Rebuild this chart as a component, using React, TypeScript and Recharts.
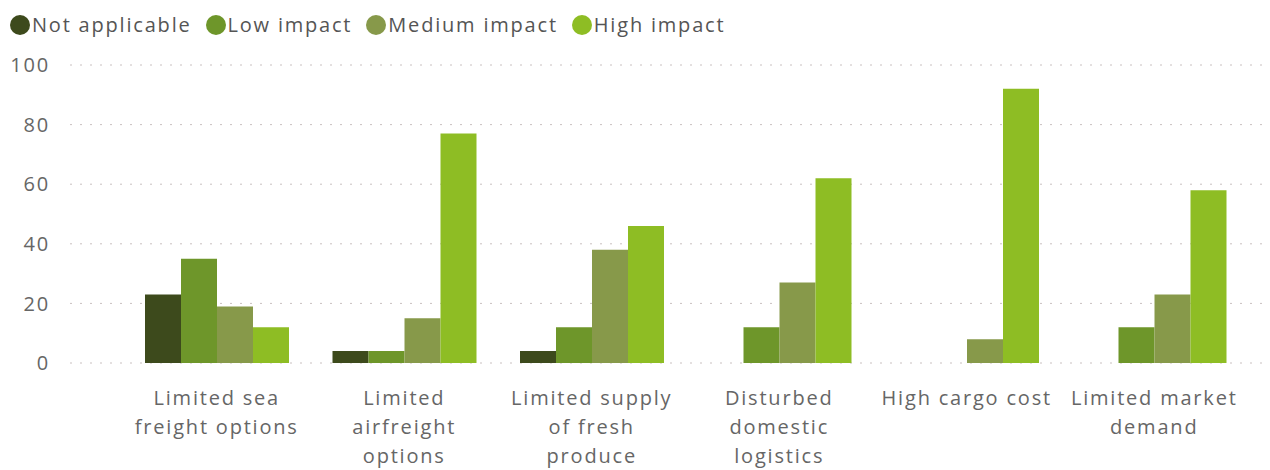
import React from 'react';
import { BarChart, Bar, XAxis, YAxis, CartesianGrid } from 'recharts';

const categories = [
  'Limited sea\nfreight options',
  'Limited\nairfreight\noptions',
  'Limited supply\nof fresh\nproduce',
  'Disturbed\ndomestic\nlogistics',
  'High cargo cost',
  'Limited market\ndemand',
];

const notApplicable = [23, 4, 4, 0, 0, 0];
const lowImpact = [35, 4, 12, 12, 0, 12];
const mediumImpact = [19, 15, 38, 27, 8, 23];
const highImpact = [12, 77, 46, 62, 92, 58];

const yTicks = [0, 20, 40, 60, 80, 100];

const series = [
  { key: 'na', name: 'Not applicable', color: '#3d4a1c' },
  { key: 'low', name: 'Low impact', color: '#6e962a' },
  { key: 'medium', name: 'Medium impact', color: '#87994a' },
  { key: 'high', name: 'High impact', color: '#8ebd24' },
];

const data = categories.map((c, i) => ({
  name: c,
  na: notApplicable[i],
  low: lowImpact[i],
  medium: mediumImpact[i],
  high: highImpact[i],
}));

const FONT = '"Open Sans", "Noto Sans", sans-serif';
const SPACING = 1.8;

const CategoryTick = (props: any) => {
  const { x, y, payload } = props;
  const lines: string[] = String(payload.value).split('\n');
  return (
    <text x={x} y={y} textAnchor="middle" fill="#666" fontSize={20} fontFamily={FONT} letterSpacing={SPACING}>
      {lines.map((l, i) => (
        <tspan key={i} x={x} y={y + 34 + i * 29}>{l}</tspan>
      ))}
    </text>
  );
};

const ChartLegend = () => (
  <div style={{ position: 'absolute', left: 10, top: 11, display: 'flex', alignItems: 'center', fontFamily: FONT, fontSize: 20, letterSpacing: SPACING, color: '#555', lineHeight: '28px' }}>
    {series.map(s => (
      <div key={s.key} style={{ display: 'flex', alignItems: 'center', marginRight: 14 }}>
        <span style={{ width: 20, height: 20, borderRadius: 10, background: s.color, display: 'inline-block', marginRight: 2 }} />
        <span>{s.name}</span>
      </div>
    ))}
  </div>
);

export default function App() {
  return (
    <div style={{ position: 'absolute', left: 0, top: 0, width: 1270, height: 470, background: '#fff' }}>
      <ChartLegend />
      <BarChart
        width={1270}
        height={470}
        data={data}
        margin={{ top: 65, right: 5, left: 0, bottom: 0 }}
        barGap={0}
        barSize={36}
      >
        <CartesianGrid vertical={false} stroke="#c9c0c0" strokeDasharray="2 8" />
        <XAxis
          dataKey="name"
          axisLine={false}
          tickLine={false}
          interval={0}
          height={107}
          padding={{ left: 53, right: 17 }}
          tick={<CategoryTick />}
        />
        <YAxis
          width={70}
          domain={[0, 100]}
          ticks={yTicks}
          axisLine={false}
          tickLine={false}
          tickSize={0}
          tickMargin={20}
          tick={{ fill: '#666', fontSize: 20, fontFamily: FONT, letterSpacing: SPACING }}
        />
        {series.map(s => (
          <Bar key={s.key} dataKey={s.key} name={s.name} fill={s.color} isAnimationActive={false} />
        ))}
      </BarChart>
    </div>
  );
}
